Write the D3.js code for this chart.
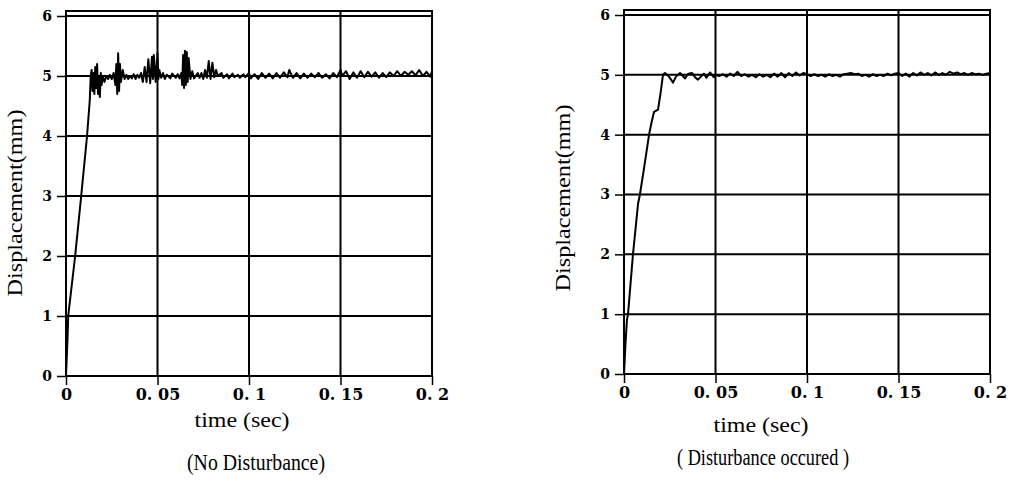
<!DOCTYPE html>
<html>
  <head>
    <meta charset="utf-8">
    <title>Displacement step response</title>
    <style>
      body { margin: 0; background: #fff; }
      .tick text { font-family: "DejaVu Serif", serif; font-weight: bold; }
    </style>
  </head>
  <body>
    <div id="chart"></div>
    <script src="https://cdn.jsdelivr.net/npm/d3@7/dist/d3.min.js"></script>
    <script>

        var width = 1017;
        var height = 484;

        var xTicks = [0, 0.05, 0.1, 0.15, 0.2];
        var xTickLabels = ['0', '0. 05', '0. 1', '0. 15', '0. 2'];
        var yTicks = [0, 1, 2, 3, 4, 5, 6];

        // [time (sec), displacement (mm)]
        var noDisturbance = [
          [0, 0], [0.0008, 0.6], [0.0012, 1.0], [0.005, 2.0], [0.0083, 3.0], [0.0115, 4.0],
          [0.013, 4.6], [0.0135, 5.0], [0.014, 5.1], [0.0145, 4.75], [0.015, 5.05], [0.0155, 4.7],
          [0.016, 5.15], [0.0165, 4.8], [0.017, 5.2], [0.0175, 4.7], [0.018, 5.0], [0.0185, 4.65],
          [0.019, 5.05], [0.0195, 4.85], [0.020, 5.0], [0.021, 4.9], [0.022, 5.0], [0.023, 4.95],
          [0.024, 5.02], [0.025, 4.95], [0.026, 5.05], [0.027, 4.85], [0.0275, 5.2], [0.028, 4.7],
          [0.0285, 5.38], [0.029, 4.75], [0.0295, 5.2], [0.030, 4.9], [0.031, 5.1], [0.032, 4.95],
          [0.033, 5.02], [0.034, 4.95], [0.035, 5.0], [0.036, 4.96], [0.037, 5.03], [0.038, 4.95],
          [0.039, 5.02], [0.040, 4.97], [0.041, 5.05], [0.042, 4.9], [0.043, 5.15], [0.044, 4.9],
          [0.045, 5.28], [0.046, 4.88], [0.047, 5.32], [0.0475, 4.95], [0.048, 5.35], [0.049, 4.9],
          [0.050, 5.38], [0.0505, 4.95], [0.051, 5.1], [0.052, 4.97], [0.053, 5.05], [0.054, 4.95],
          [0.055, 5.02], [0.057, 4.96], [0.058, 5.04], [0.060, 4.97], [0.061, 5.03], [0.062, 4.96],
          [0.063, 5.05], [0.0635, 4.85], [0.064, 5.35], [0.0645, 4.8], [0.065, 5.42], [0.0655, 4.85],
          [0.066, 5.4], [0.0665, 4.9], [0.067, 5.3], [0.068, 4.95], [0.069, 5.08], [0.070, 4.96],
          [0.072, 5.05], [0.073, 4.97], [0.074, 5.05], [0.075, 4.95], [0.076, 5.1], [0.077, 4.97],
          [0.078, 5.25], [0.079, 4.95], [0.080, 5.22], [0.081, 4.98], [0.082, 5.1], [0.083, 5.0],
          [0.085, 5.05], [0.086, 4.97], [0.088, 5.03], [0.089, 4.96], [0.091, 5.04], [0.092, 4.98],
          [0.094, 5.02], [0.095, 4.97], [0.097, 5.03], [0.098, 4.98], [0.100, 5.05], [0.101, 4.96],
          [0.103, 5.03], [0.105, 4.95], [0.107, 5.05], [0.109, 4.97], [0.111, 5.04], [0.113, 4.96],
          [0.115, 5.05], [0.117, 4.97], [0.119, 5.06], [0.121, 4.98], [0.122, 5.1], [0.124, 4.97],
          [0.126, 5.05], [0.128, 4.96], [0.130, 5.04], [0.132, 4.97], [0.134, 5.04], [0.136, 4.98],
          [0.138, 5.05], [0.140, 4.97], [0.142, 5.03], [0.144, 4.96], [0.146, 5.05], [0.148, 4.98],
          [0.150, 5.1], [0.151, 5.0], [0.153, 5.08], [0.155, 4.95], [0.157, 5.06], [0.159, 4.97],
          [0.161, 5.08], [0.163, 4.98], [0.165, 5.07], [0.167, 4.99], [0.169, 5.06], [0.171, 4.97],
          [0.173, 5.05], [0.175, 4.98], [0.177, 5.06], [0.179, 5.0], [0.181, 5.08], [0.183, 5.0],
          [0.185, 5.07], [0.187, 5.02], [0.189, 5.08], [0.191, 5.01], [0.193, 5.1], [0.195, 5.0],
          [0.197, 5.07], [0.199, 4.99], [0.200, 5.08]
        ];

        // [time (sec), displacement (mm)]
        var withDisturbance = [
          [0, 0], [0.0008, 0.5], [0.0016, 0.9], [0.0022, 1.0], [0.0049, 2.0], [0.0077, 2.85],
          [0.0087, 3.0], [0.011, 3.45], [0.0137, 4.0], [0.015, 4.2], [0.0164, 4.38], [0.0186, 4.42],
          [0.020, 4.7], [0.0213, 5.0], [0.0224, 5.03], [0.0235, 5.0], [0.0246, 4.97], [0.0268, 4.87],
          [0.0284, 4.97], [0.0306, 5.03], [0.0333, 4.94], [0.0352, 5.02], [0.0372, 5.03], [0.0388, 4.96],
          [0.0404, 4.92], [0.0437, 5.02], [0.045, 4.95], [0.047, 5.04], [0.049, 4.96], [0.050, 5.0],
          [0.052, 4.98], [0.054, 5.01], [0.056, 4.97], [0.058, 5.02], [0.060, 4.98], [0.062, 5.05],
          [0.064, 4.98], [0.066, 5.01], [0.068, 4.97], [0.070, 5.0], [0.072, 4.96], [0.074, 5.01],
          [0.076, 4.97], [0.078, 5.0], [0.080, 4.96], [0.082, 5.02], [0.084, 4.97], [0.086, 5.03],
          [0.088, 4.96], [0.090, 5.03], [0.092, 4.98], [0.094, 5.04], [0.096, 4.99], [0.098, 5.03],
          [0.100, 5.01], [0.102, 4.98], [0.104, 5.01], [0.106, 4.98], [0.108, 5.0], [0.110, 4.97],
          [0.112, 5.01], [0.114, 4.98], [0.116, 5.0], [0.118, 4.97], [0.120, 5.01], [0.122, 5.02],
          [0.124, 5.03], [0.126, 5.01], [0.128, 5.02], [0.130, 4.98], [0.132, 5.0], [0.134, 4.97],
          [0.136, 5.01], [0.138, 4.98], [0.140, 5.0], [0.142, 4.98], [0.144, 5.02], [0.146, 4.99],
          [0.148, 5.02], [0.150, 5.03], [0.152, 4.98], [0.154, 5.02], [0.156, 4.97], [0.158, 5.03],
          [0.160, 4.99], [0.162, 5.04], [0.164, 5.0], [0.166, 5.03], [0.168, 4.99], [0.170, 5.04],
          [0.172, 5.0], [0.174, 5.03], [0.176, 5.0], [0.178, 5.05], [0.180, 5.02], [0.182, 5.04],
          [0.184, 5.01], [0.186, 5.03], [0.188, 5.0], [0.190, 5.03], [0.192, 5.01], [0.194, 5.02],
          [0.196, 5.0], [0.198, 5.02], [0.200, 5.03]
        ];

        var panels = [
          { data: noDisturbance, left: 66, right: 432, top: 16, bottom: 376,
            yTitleX: 22, yTitleY: 203, xTitleX: 242, xTitleY: 427,
            caption: '(No Disturbance)', capX: 256, capY: 470, capLen: 138 },
          { data: withDisturbance, left: 624, right: 990, top: 15, bottom: 374,
            yTitleX: 570, yTitleY: 198, xTitleX: 761, xTitleY: 432,
            caption: '( Disturbance occured )', capX: 763, capY: 465, capLen: 172 }
        ];

        var serif = '"Liberation Serif", "Times New Roman", serif';

        var svg = d3.select('#chart')
          .append('svg')
          .attr('width', width)
          .attr('height', height);

        panels.forEach(function(p) {
          var x = d3.scaleLinear().domain([0, 0.2]).range([p.left, p.right]);
          var y = d3.scaleLinear().domain([0, 6]).range([p.bottom, p.top]);
          var g = svg.append('g');

          // grid
          g.selectAll('.vgrid').data(xTicks).enter().append('line')
            .attr('x1', function(d) { return x(d); }).attr('x2', function(d) { return x(d); })
            .attr('y1', y(6.085)).attr('y2', y(0))
            .attr('stroke', '#000').attr('stroke-width', 2);
          g.selectAll('.hgrid').data(yTicks).enter().append('line')
            .attr('x1', x(0)).attr('x2', x(0.2))
            .attr('y1', function(d) { return y(d); }).attr('y2', function(d) { return y(d); })
            .attr('stroke', '#000').attr('stroke-width', 2);
          // frame top
          g.append('line')
            .attr('x1', x(0) - 1).attr('x2', x(0.2) + 1)
            .attr('y1', y(6.085)).attr('y2', y(6.085))
            .attr('stroke', '#000').attr('stroke-width', 2);

          var xAxis = d3.axisBottom(x).tickValues(xTicks)
            .tickFormat(function(d, i) { return xTickLabels[i]; })
            .tickSize(9).tickPadding(4);
          var ax = g.append('g').attr('transform', 'translate(0,' + y(0) + ')').call(xAxis);
          ax.select('.domain').remove();
          ax.selectAll('line').attr('stroke-width', 1.5);
          ax.selectAll('text').attr('font-size', 16).attr('fill', '#000');

          var yAxis = d3.axisLeft(y).tickValues(yTicks).tickFormat(d3.format('d'))
            .tickSize(9).tickPadding(5);
          var ay = g.append('g').attr('transform', 'translate(' + x(0) + ',0)').call(yAxis);
          ay.select('.domain').remove();
          ay.selectAll('line').attr('stroke-width', 1.5);
          ay.selectAll('text').attr('font-size', 14).attr('fill', '#000');

          var line = d3.line()
            .x(function(d) { return x(d[0]); })
            .y(function(d) { return y(d[1]); });
          g.append('path')
            .datum(p.data)
            .attr('d', line)
            .attr('fill', 'none')
            .attr('stroke', '#000')
            .attr('stroke-width', 2)
            .attr('stroke-linejoin', 'round');

          g.append('text')
            .attr('font-family', serif)
            .attr('transform', 'translate(' + p.yTitleX + ',' + p.yTitleY + ') rotate(-90)')
            .attr('text-anchor', 'middle')
            .attr('font-size', 21)
            .attr('textLength', 187).attr('lengthAdjust', 'spacingAndGlyphs')
            .text('Displacement(mm)');

          g.append('text')
            .attr('font-family', serif)
            .attr('x', p.xTitleX).attr('y', p.xTitleY)
            .attr('text-anchor', 'middle')
            .attr('font-size', 20)
            .attr('textLength', 95).attr('lengthAdjust', 'spacingAndGlyphs')
            .text('time (sec)');

          g.append('text')
            .attr('font-family', serif)
            .attr('x', p.capX).attr('y', p.capY)
            .attr('text-anchor', 'middle')
            .attr('font-size', 23)
            .attr('textLength', p.capLen).attr('lengthAdjust', 'spacingAndGlyphs')
            .text(p.caption);
        });
    </script>
  </body>
</html>
